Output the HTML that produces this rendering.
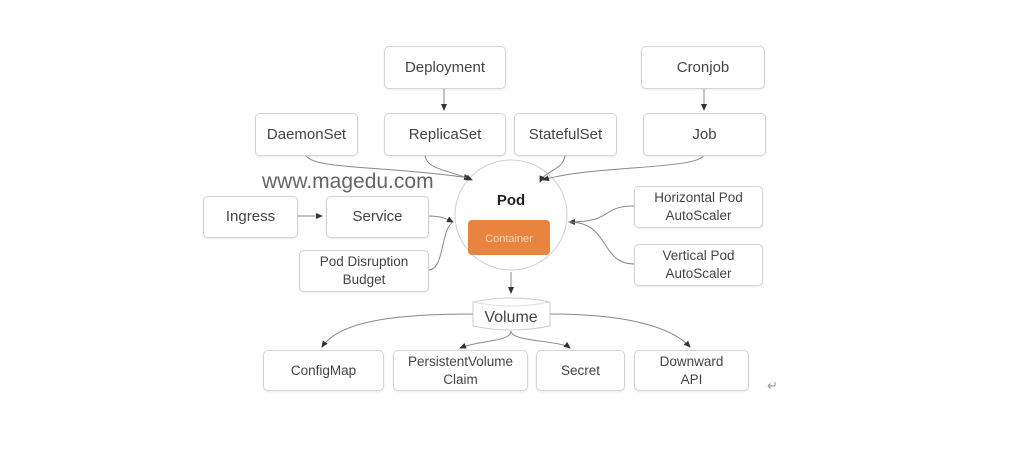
<!DOCTYPE html>
<html><head><style>
body{margin:0;width:1018px;height:452px;background:#fff;overflow:hidden;position:relative;font-family:"Liberation Sans",sans-serif;}
.b{position:absolute;border:1px solid #d4d4d4;border-radius:5px;background:#fff;display:flex;align-items:center;justify-content:center;text-align:center;color:#444;font-size:15px;line-height:18px;box-shadow:0 1px 2px rgba(0,0,0,.08);}
.s{font-size:13.5px;line-height:18px;}
</style></head><body>
<svg width="1018" height="452" style="position:absolute;left:0;top:0">
<defs><marker id="a" markerWidth="8" markerHeight="8" refX="6" refY="4" orient="auto"><path d="M0,1 L7,4 L0,7z" fill="#333"/></marker></defs>
<g fill="none" stroke="#888" stroke-width="1">
<ellipse cx="511" cy="215" rx="56" ry="55" fill="#fff" stroke="#d0d0d0"/>
<path d="M444,88 V110" marker-end="url(#a)"/>
<path d="M704,88 V110" marker-end="url(#a)"/>
<path d="M305,154 C310,170 380,165 470,178" marker-end="url(#a)"/>
<path d="M425,154 C425,170 450,170 472,180" marker-end="url(#a)"/>
<path d="M565,154 C565,170 545,170 540,182" marker-end="url(#a)"/>
<path d="M704,154 C704,170 590,165 543,180" marker-end="url(#a)"/>
<path d="M297,216 H322" marker-end="url(#a)"/>
<path d="M428,216 C440,216 445,218 453,222" marker-end="url(#a)"/>
<path d="M428,270 C445,270 440,230 453,222" />
<path d="M634,206 C600,206 615,222 569,222" marker-end="url(#a)"/>
<path d="M634,264 C600,264 610,222 569,222"/>
<path d="M511,272 V293" marker-end="url(#a)"/>
<path d="M473,314 C400,314 340,320 322,347" marker-end="url(#a)"/>
<path d="M511,331 C511,342 480,340 460,348" marker-end="url(#a)"/>
<path d="M511,331 C511,342 560,340 570,348" marker-end="url(#a)"/>
<path d="M550,314 C620,314 670,325 690,347" marker-end="url(#a)"/>
</g>
<path d="M473,302 Q511,294 550,302 V326 Q511,334 473,326 Z" fill="#fff" stroke="#ccc"/>
<path d="M473,302 Q511,310 550,302" fill="none" stroke="#ddd"/>
<text x="262" y="188" font-size="21" fill="#666" font-family="Liberation Sans,sans-serif">www.magedu.com</text>
<text x="511" y="205" font-size="15" font-weight="bold" fill="#222" text-anchor="middle" font-family="Liberation Sans,sans-serif">Pod</text>
<rect x="468" y="220" width="82" height="35" rx="4" fill="#e8843e"/>
<text x="509" y="242" font-size="11" fill="#f8d7bb" text-anchor="middle" font-family="Liberation Sans,sans-serif">Container</text>
<text x="511" y="322" font-size="16" fill="#444" text-anchor="middle" font-family="Liberation Sans,sans-serif">Volume</text>
<text x="767" y="390" font-size="13" fill="#999">↵</text>
</svg>
<div class="b" style="left:384px;top:46px;width:120px;height:41px">Deployment</div>
<div class="b" style="left:641px;top:46px;width:122px;height:41px">Cronjob</div>
<div class="b" style="left:255px;top:113px;width:101px;height:41px">DaemonSet</div>
<div class="b" style="left:384px;top:113px;width:120px;height:41px">ReplicaSet</div>
<div class="b" style="left:514px;top:113px;width:101px;height:41px">StatefulSet</div>
<div class="b" style="left:643px;top:113px;width:121px;height:41px">Job</div>
<div class="b" style="left:203px;top:196px;width:93px;height:40px">Ingress</div>
<div class="b" style="left:326px;top:196px;width:101px;height:40px">Service</div>
<div class="b s" style="left:299px;top:250px;width:128px;height:40px">Pod Disruption<br>Budget</div>
<div class="b s" style="left:634px;top:186px;width:127px;height:40px">Horizontal Pod<br>AutoScaler</div>
<div class="b s" style="left:634px;top:244px;width:127px;height:40px">Vertical Pod<br>AutoScaler</div>
<div class="b s" style="left:263px;top:350px;width:119px;height:39px">ConfigMap</div>
<div class="b s" style="left:393px;top:350px;width:133px;height:39px">PersistentVolume<br>Claim</div>
<div class="b s" style="left:536px;top:350px;width:87px;height:39px">Secret</div>
<div class="b s" style="left:634px;top:350px;width:113px;height:39px">Downward<br>API</div>
</body></html>
